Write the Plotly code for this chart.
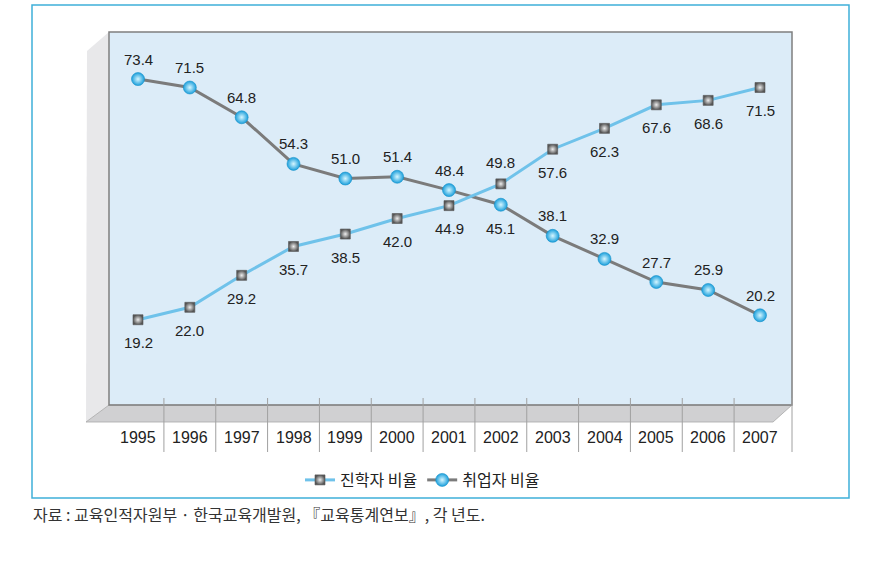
import plotly.graph_objects as go

years = [1995, 1996, 1997, 1998, 1999, 2000, 2001, 2002, 2003, 2004, 2005, 2006, 2007]
year_labels = [str(y) for y in years]
advance_rate = [19.2, 22.0, 29.2, 35.7, 38.5, 42.0, 44.9, 49.8, 57.6, 62.3, 67.6, 68.6, 71.5]
employ_rate = [73.4, 71.5, 64.8, 54.3, 51.0, 51.4, 48.4, 45.1, 38.1, 32.9, 27.7, 25.9, 20.2]
advance_name = "진학자 비율"
employ_name = "취업자 비율"
source_text = "자료 : 교육인적자원부 · 한국교육개발원, 『교육통계연보』, 각 년도."

W, H = 884, 567
# plot area in screen pixels
SL, SR, ST, SB = 109, 792, 32, 405


def px(xs):
    return (xs - SL) / (SR - SL)


def py(ys):
    return (SB - ys) / (SB - ST)


NUM_FONT = "Liberation Sans, Arial, sans-serif"
KR_FONT = "Noto Sans CJK KR, sans-serif"

fig = go.Figure()

fig.add_trace(go.Scatter(
    x=years, y=employ_rate, name=employ_name, mode="lines+markers",
    line=dict(color="#7b7b7b", width=3),
    marker=dict(symbol="circle", size=13, color="#1a9fdc",
                gradient=dict(type="radial", color="#d6f6ff"),
                line=dict(color="#1690c8", width=0.6)),
    legendrank=2, hoverinfo="skip",
))
fig.add_trace(go.Scatter(
    x=years, y=advance_rate, name=advance_name, mode="lines+markers",
    line=dict(color="#6fc2ea", width=3),
    marker=dict(symbol="square", size=10, color="#555555",
                gradient=dict(type="radial", color="#eeeeee"),
                line=dict(color="#555555", width=0.6)),
    legendrank=1, hoverinfo="skip",
))

annotations = []
for yr, a, e in zip(years, advance_rate, employ_rate):
    swap = yr == 2002
    annotations.append(dict(x=yr, y=e, xref="x", yref="y", text=f"{e:.1f}",
                            showarrow=False, yanchor="middle",
                            yshift=(-24 if swap else 20),
                            font=dict(family=NUM_FONT, size=15, color="#222222")))
    annotations.append(dict(x=yr, y=a, xref="x", yref="y", text=f"{a:.1f}",
                            showarrow=False, yanchor="middle",
                            yshift=(21 if swap else -23),
                            font=dict(family=NUM_FONT, size=15, color="#222222")))

for yr, lab in zip(years, year_labels):
    annotations.append(dict(x=yr, y=py(437), xref="x", yref="paper", text=lab,
                            showarrow=False, yanchor="middle",
                            font=dict(family=NUM_FONT, size=16, color="#222222")))

annotations.append(dict(x=px(31), y=py(514), xref="paper", yref="paper",
                        text=source_text, showarrow=False, xanchor="left",
                        yanchor="middle",
                        font=dict(family=KR_FONT, size=16, color="#333333")))

shapes = []
# outer frame
shapes.append(dict(type="rect", xref="paper", yref="paper",
                   x0=px(32), x1=px(849), y0=py(5), y1=py(498),
                   line=dict(color="#3fb0d9", width=1.5), fillcolor="rgba(0,0,0,0)",
                   layer="below"))
# side wall
shapes.append(dict(type="path", xref="paper", yref="paper",
                   path=f"M {px(87)},{py(51)} L {px(109)},{py(32)} L {px(109)},{py(405)} L {px(86)},{py(422)} Z",
                   fillcolor="#e8e8ea", line=dict(width=0), layer="below"))
# floor
shapes.append(dict(type="path", xref="paper", yref="paper",
                   path=f"M {px(109)},{py(405)} L {px(792)},{py(405)} L {px(773)},{py(422)} L {px(86)},{py(422)} Z",
                   fillcolor="#d0d0d2", line=dict(color="#a8a8a8", width=0.8), layer="below"))
# back wall border
shapes.append(dict(type="rect", xref="paper", yref="paper",
                   x0=0, x1=1, y0=0, y1=1,
                   line=dict(color="#7f7f7f", width=1.5), fillcolor="rgba(0,0,0,0)",
                   layer="below"))
# category separators
for yr in years[:-1]:
    shapes.append(dict(type="line", xref="x", yref="paper",
                       x0=yr + 0.5, x1=yr + 0.5, y0=py(398), y1=py(452),
                       line=dict(color="#a0a0a0", width=1)))
shapes.append(dict(type="line", xref="paper", yref="paper",
                   x0=1, x1=1, y0=py(398), y1=py(452),
                   line=dict(color="#a0a0a0", width=1)))

x0 = years[0] - (138 - SL) / 51.83
x1 = years[-1] + (SR - 760) / 51.83

fig.update_layout(
    width=W, height=H, autosize=False,
    margin=dict(l=SL, r=W - SR, t=ST, b=H - SB, pad=0),
    paper_bgcolor="white", plot_bgcolor="#dcecf8",
    xaxis=dict(range=[x0, x1], showgrid=False, zeroline=False,
               showticklabels=False, ticks="", fixedrange=True),
    yaxis=dict(range=[0, 84], showgrid=False, zeroline=False,
               showticklabels=False, ticks="", fixedrange=True),
    showlegend=True,
    legend=dict(orientation="h", x=px(300), xanchor="left", y=py(480),
                yanchor="middle", bgcolor="rgba(0,0,0,0)",
                font=dict(family=KR_FONT, size=16, color="#222222"),
                itemwidth=30, tracegroupgap=0),
    annotations=annotations, shapes=shapes,
)

fig.write_html("out.html", config={"displayModeBar": False},
               post_script="document.body.style.margin='0';")
